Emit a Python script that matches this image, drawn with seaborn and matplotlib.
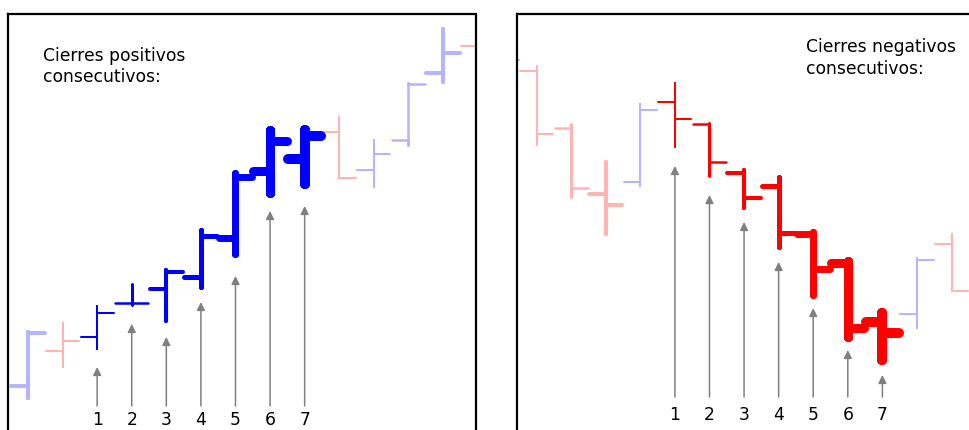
import numpy as np
import pandas as pd
import matplotlib
matplotlib.use("Agg")
import matplotlib.pyplot as plt
import seaborn as sns

# ---------------- data (price units) ----------------
pos_open = [44, 79, 93, 127, 141, 153, 192, 259, 271, 298, 260, 290, 357, 384]
pos_high = [98, 107, 124, 146, 160, 200, 257, 300, 300, 313, 290, 347, 401, 395]
pos_low = [32, 63, 81, 125, 109, 143, 176, 237, 246, 252, 243, 285, 348, 350]
pos_close = [97, 89, 117, 127, 158, 194, 253, 289, 294, 252, 276, 346, 377, 360]
pos_first_streak = 3
pos_arrow_tips = [63, 106, 93, 128, 154, 219, 224]
pos_arrow_base = 24
pos_label_y = 10

neg_open = [340, 359, 302, 236, 248, 328, 306, 257, 244, 196, 167, 108, 116, 186]
neg_high = [375, 364, 306, 268, 326, 347, 307, 260, 253, 198, 169, 117, 172, 196]
neg_low = [335, 285, 233, 196, 244, 283, 254, 222, 183, 135, 93, 70, 102, 139]
neg_close = [370, 296, 242, 225, 320, 311, 268, 232, 197, 161, 102, 97, 170, 139]
neg_first_streak = 1
neg_arrow_tips = [264, 235, 208, 168, 122, 80, 55]
neg_arrow_base = 33
neg_label_y = 15

streak_labels = ["1", "2", "3", "4", "5", "6", "7"]
titles = ["Cierres positivos\nconsecutivos:", "Cierres negativos\nconsecutivos:"]

# ---------------- styles ----------------
palette = {"up": "#B4B4FF", "down": "#FFB4B4", "hl_up": "#0000FF", "hl_down": "#FF0000"}
width_by_streak = {1: 1.45, 2: 1.8, 3: 2.9, 4: 3.6, 5: 5.0, 6: 6.5, 7: 7.2}
HALF_TICK = 0.48
HL_RUN = 7
ARROW_COLOR = "#808080"


def bar_table(o, h, l, c, first_streak):
    rows = []
    up_prev, streak = None, 0
    dirs, strs = [], []
    for k in range(len(c)):
        up = c[k] > o[k] if k == 0 else c[k] > c[k - 1]
        if k == 0:
            streak = first_streak
        else:
            streak = streak + 1 if up == up_prev else 1
        up_prev = up
        dirs.append(up)
        strs.append(streak)
    # run length of each bar's run
    runlen = [0] * len(c)
    k = len(c) - 1
    while k >= 0:
        j = k
        while j - 1 >= 0 and strs[j] > 1 and dirs[j - 1] == dirs[k]:
            j -= 1
        for m in range(j, k + 1):
            runlen[m] = strs[k]
        k = j - 1
    hl_idx = []
    for k in range(len(c)):
        tone = "up" if dirs[k] else "down"
        hl = runlen[k] >= HL_RUN
        if hl:
            tone = "hl_" + tone
            hl_idx.append(k)
        pts = [(k - HALF_TICK, o[k]), (k, o[k]), (k, l[k]), (k, h[k]), (k, c[k]), (k + HALF_TICK, c[k])]
        for step, (x, y) in enumerate(pts):
            rows.append(dict(bar=k, step=step, x=x, y=y, tone=tone, streak=strs[k], hl=hl))
    return pd.DataFrame(rows), hl_idx


sns.set_theme(style="white")
plt.rcParams["font.family"] = ["DejaVu Sans"]

fig = plt.figure(figsize=(9.7, 4.3), dpi=100)
W, H = 970.0, 430.0

panels = [
    dict(o=pos_open, h=pos_high, l=pos_low, c=pos_close, first=pos_first_streak,
         tips=pos_arrow_tips, base=pos_arrow_base, lab_y=pos_label_y, title=titles[0],
         px=(8.5, 475.5), top=13.5, x0px=28.0, text_px=(43, 383.5)),
    dict(o=neg_open, h=neg_high, l=neg_low, c=neg_close, first=neg_first_streak,
         tips=neg_arrow_tips, base=neg_arrow_base, lab_y=neg_label_y, title=titles[1],
         px=(517.0, 985.0), top=14.0, x0px=502.0, text_px=(806, 392)),
]
STEP = 34.58
BOTTOM_PX = 440.0

for p in panels:
    left, right = p["px"]
    ax = fig.add_axes([left / W, (H - BOTTOM_PX) / H, (right - left) / W, (BOTTOM_PX - p["top"]) / H])
    df, hl_idx = bar_table(p["o"], p["h"], p["l"], p["c"], p["first"])
    for hl in (False, True):
        sub = df[df["hl"] == hl]
        sns.lineplot(data=sub, x="x", y="y", units="bar", estimator=None, sort=False,
                     hue="tone", palette={k: v for k, v in palette.items() if k in set(sub["tone"])},
                     size="streak", sizes={k: v for k, v in width_by_streak.items() if k in set(sub["streak"])},
                     legend=False, ax=ax, solid_capstyle="round", solid_joinstyle="round")
    for k, tip, lab in zip(hl_idx, p["tips"], streak_labels):
        ax.annotate("", xy=(k, tip), xytext=(k, p["base"]),
                    arrowprops=dict(arrowstyle="-|>", color=ARROW_COLOR, lw=1.1,
                                    mutation_scale=12, shrinkA=0, shrinkB=0))
        ax.text(k, p["lab_y"], lab, ha="center", va="center", fontsize=12.3, color="black")
    tx = (p["text_px"][0] - p["x0px"]) / STEP
    ax.text(tx, p["text_px"][1], p["title"], ha="left", va="top", fontsize=12.3,
            color="black", linespacing=1.25)
    ax.set_xlim((left - p["x0px"]) / STEP, (right - p["x0px"]) / STEP)
    ax.set_ylim(H - BOTTOM_PX, H - p["top"])
    ax.set_xticks([])
    ax.set_yticks([])
    ax.set_xlabel("")
    ax.set_ylabel("")
    for s in ax.spines.values():
        s.set_visible(True)
        s.set_color("black")
        s.set_linewidth(1.6)

fig.savefig("out.png", dpi=100, facecolor="white")
